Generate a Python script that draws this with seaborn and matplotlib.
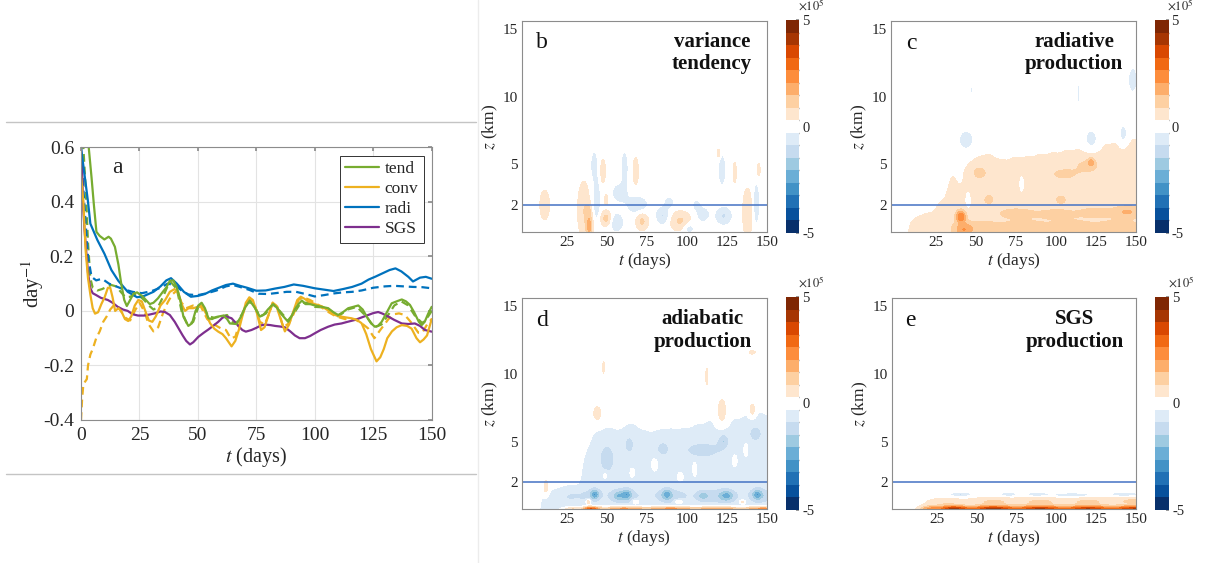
import numpy as np
import pandas as pd
import matplotlib
matplotlib.use("Agg")
import matplotlib.pyplot as plt
from matplotlib.colors import ListedColormap, BoundaryNorm
from matplotlib.lines import Line2D
import seaborn as sns

sns.set_theme(style="white")
plt.rcParams['font.family'] = ['Liberation Serif', 'DejaVu Serif']
plt.rcParams['mathtext.fontset'] = 'stix'
plt.rcParams['axes.unicode_minus'] = False

# ---------------- panel a data (day^-1) ----------------
tend_solid = [(0, 0.9), (2, 0.75), (3.3, 0.6), (4.5, 0.49), (5.5, 0.39), (6.6, 0.29), (8, 0.275), (10, 0.262),
              (11.8, 0.272), (12.8, 0.265), (14.5, 0.235), (16, 0.17), (17.2, 0.1), (18.5, 0.04), (19.6, 0.018),
              (21, 0.04), (22.5, 0.064), (24, 0.068), (26.5, 0.052), (29.4, 0.025), (31, 0.03), (32.9, 0.046),
              (35, 0.07), (36.4, 0.085), (38, 0.11), (39.5, 0.112), (41, 0.085), (42.3, 0.046), (43.8, -0.021),
              (45.9, -0.055), (47.5, -0.045), (49, 0.0), (50.2, 0.02), (51.6, 0.03), (53, 0.01), (54.5, -0.027),
              (56, -0.03), (58, -0.022), (60.9, -0.017), (62.5, -0.03), (63.7, -0.046), (66.5, -0.048),
              (68.5, -0.02), (70, 0.01), (72.2, 0.038), (74.3, 0.012), (76.5, -0.021), (78, -0.015), (80, 0.006),
              (82.2, 0.025), (84, 0.01), (85.5, -0.01), (88.6, -0.04), (90, -0.02), (91.5, 0.006), (93, 0.025),
              (94.5, 0.038), (96, 0.025), (98, 0.025), (100, 0.02), (103, 0.015), (105.7, 0.01), (108, -0.005),
              (110, -0.015), (112, -0.005), (114.3, 0.01), (116.5, 0.015), (118.6, 0.02), (120.5, 0.005),
              (122.2, -0.021), (124, -0.045), (125.7, -0.058), (127, -0.055), (128.6, -0.04), (130.5, -0.01),
              (132.9, 0.028), (135, 0.035), (137.2, 0.042), (139, 0.035), (140.7, 0.022), (142.5, -0.005),
              (144.5, -0.04), (145.7, -0.052), (147, -0.04), (148.5, -0.01), (150, 0.015)]
tend_dash = [(0, 0.62), (1, 0.6), (2, 0.45), (3, 0.25), (4, 0.12), (5, 0.085), (7, 0.075), (9, 0.08), (11, 0.088),
             (13, 0.095), (15, 0.09), (17, 0.07), (19, 0.05), (21, 0.052), (23, 0.06), (25, 0.055), (27, 0.04),
             (29, 0.02), (31, 0.005), (33, 0.015), (35, 0.05), (37, 0.09), (38.5, 0.105), (41, 0.08), (43, 0.0),
             (45.5, -0.05), (48, -0.04), (50.2, 0.015), (52, 0.02), (54.5, -0.02), (57, -0.025), (60, -0.02),
             (62.5, -0.015), (64, -0.04), (66.5, -0.045), (69, -0.01), (71.5, 0.035), (74, 0.02), (76.5, -0.02),
             (79, -0.01), (82, 0.025), (85, 0.0), (88.5, -0.035), (91, -0.01), (94, 0.03), (97, 0.03), (100, 0.015),
             (105, 0.012), (110, -0.02), (114, 0.005), (118, 0.015), (122, -0.02), (125.5, -0.06), (128.5, -0.05),
             (131, -0.02), (134, 0.02), (137, 0.035), (140, 0.02), (143, -0.02), (146, -0.045), (148.5, -0.02),
             (150, 0.0)]
conv_solid = [(0, 0.5), (1, 0.4), (2, 0.22), (3, 0.12), (4, 0.06), (5, 0.01), (6, -0.01), (7.3, -0.005), (8.7, 0.025),
              (10.1, 0.05), (11.5, 0.085), (12.5, 0.085), (13.5, 0.05), (14.6, 0.0), (16, 0.01), (17.2, 0.0),
              (18.8, -0.03), (20.2, -0.037), (21.5, -0.02), (23, 0.02), (24.5, 0.04), (26, 0.035), (27.5, 0.0),
              (29, -0.035), (30.5, -0.04), (32, -0.02), (34, 0.02), (36, 0.04), (38, 0.07), (40, 0.08), (41.5, 0.07),
              (43, 0.025), (44.5, 0.0), (46, 0.01), (48, 0.01), (50, 0.015), (51.6, 0.02), (53.5, -0.01),
              (55.2, -0.045), (57, -0.065), (58.7, -0.076), (60.5, -0.085), (62, -0.1), (64.4, -0.13), (66, -0.11),
              (67.5, -0.07), (69, -0.02), (70.5, 0.03), (72, 0.05), (73.5, 0.04), (75, 0.0), (77, -0.07),
              (78.5, -0.06), (80, -0.02), (82, 0.03), (83.5, 0.02), (85, -0.02), (87.2, -0.075), (89, -0.05),
              (90.5, -0.01), (92.5, 0.04), (94, 0.052), (95.5, 0.045), (97.2, 0.035), (100, 0.025), (103, 0.017),
              (106, 0.0), (108.6, -0.015), (112, -0.022), (115.7, -0.027), (118, -0.033), (120, -0.045),
              (122, -0.085), (124, -0.14), (126.4, -0.185), (128, -0.17), (129.5, -0.14), (131, -0.1),
              (133, -0.075), (135, -0.06), (137.2, -0.052), (139.5, -0.055), (141.4, -0.065), (143.5, -0.1),
              (145, -0.115), (146.5, -0.105), (148, -0.09), (149, -0.06), (150, -0.03)]
conv_dash = [(0, -0.4), (0.5, -0.32), (1, -0.27), (1.7, -0.26), (2.5, -0.25), (3, -0.2), (4, -0.16), (5, -0.14),
             (6.5, -0.1), (8, -0.075), (9.5, -0.04), (11, -0.02), (12.5, 0.005), (14, 0.02), (15.5, 0.02), (17, 0.0),
             (19, -0.025), (21, -0.035), (23, 0.0), (25, 0.03), (27, 0.0), (29, -0.05), (31, -0.075), (33, -0.06),
             (35, -0.01), (37, 0.03), (39, 0.06), (41, 0.075), (43, 0.03), (45, 0.01), (48, 0.02), (51, 0.02),
             (54, -0.03), (57, -0.05), (60, -0.065), (62, -0.07), (64, -0.1), (66, -0.095), (68, -0.04),
             (70.5, 0.02), (72, 0.04), (74, 0.03), (76.5, -0.04), (78.5, -0.05), (80.5, -0.01), (82, 0.03),
             (84, 0.015), (86.5, -0.06), (89, -0.045), (91, -0.01), (93, 0.04), (95, 0.05), (98, 0.04),
             (101, 0.025), (105, 0.0), (109, -0.02), (113, -0.03), (117, -0.03), (120, -0.045), (122.8, -0.064),
             (125.5, -0.1), (128, -0.07), (131.5, -0.03), (134, -0.012), (136, -0.009), (138.5, -0.015),
             (141, -0.04), (144.3, -0.08), (146, -0.08), (148, -0.05), (150, -0.03)]
radi_solid = [(0, 0.60), (1.5, 0.50), (3, 0.40), (4, 0.32), (5.5, 0.29), (7, 0.26), (10, 0.21), (13, 0.15),
              (16, 0.11), (20, 0.07), (24, 0.05), (27, 0.055), (31, 0.07), (34, 0.09), (36.5, 0.112), (38.5, 0.12),
              (41, 0.10), (44, 0.07), (47, 0.052), (50, 0.055), (53, 0.062), (56, 0.075), (59, 0.085), (62, 0.095),
              (65, 0.1), (68, 0.092), (71, 0.085), (75, 0.074), (79, 0.075), (83, 0.082), (87, 0.088), (91, 0.097),
              (95, 0.092), (100, 0.083), (104, 0.078), (108, 0.073), (112, 0.08), (116, 0.088), (120, 0.1),
              (123, 0.115), (126, 0.126), (129, 0.138), (132, 0.15), (134.5, 0.156), (137, 0.145), (140, 0.125),
              (142, 0.108), (145, 0.122), (147.5, 0.125), (150, 0.118)]
radi_dash = [(0, 0.58), (1, 0.45), (2, 0.32), (3, 0.2), (4.5, 0.125), (6.5, 0.112), (9, 0.118), (12, 0.1),
             (15, 0.09), (18, 0.08), (22, 0.07), (26, 0.065), (30, 0.072), (34, 0.085), (37, 0.1), (40, 0.095),
             (43, 0.075), (46, 0.06), (50, 0.058), (54, 0.065), (58, 0.075), (62, 0.09), (65, 0.095), (68, 0.088),
             (72, 0.077), (76, 0.063), (80, 0.062), (84, 0.066), (88, 0.07), (92, 0.07), (96, 0.062), (100, 0.053),
             (104, 0.058), (108, 0.064), (112, 0.068), (116, 0.07), (120, 0.075), (125, 0.085), (130, 0.09),
             (134, 0.092), (138, 0.09), (142, 0.088), (146, 0.087), (150, 0.083)]
sgs_solid = [(0, 0.6), (0.5, 0.5), (1, 0.37), (1.5, 0.3), (2.4, 0.2), (3, 0.14), (3.9, 0.085), (5, 0.065),
             (6.5, 0.058), (8.5, 0.048), (11.5, 0.04), (13.5, 0.03), (15.7, 0.015), (18, 0.005), (20, 0.0),
             (22, -0.012), (24.4, -0.017), (27, -0.017), (29.5, -0.013), (32, -0.008), (34, -0.002), (35.9, -0.004),
             (38, -0.015), (40.1, -0.04), (42, -0.068), (43.5, -0.09), (45, -0.11), (46.6, -0.123), (48, -0.115),
             (50.2, -0.095), (52.5, -0.08), (54.5, -0.068), (56.5, -0.055), (58.7, -0.04), (60.5, -0.025),
             (62, -0.02), (64.4, -0.027), (66, -0.042), (67.3, -0.055), (69, -0.07), (70.5, -0.076), (72.9, -0.07),
             (75, -0.062), (77, -0.053), (78.7, -0.05), (81, -0.052), (83, -0.055), (85, -0.057), (87.2, -0.06),
             (89.5, -0.075), (91.5, -0.09), (93.5, -0.1), (95.8, -0.1), (98, -0.092), (100, -0.082),
             (102.5, -0.07), (105.7, -0.058), (108.5, -0.05), (111.4, -0.046), (114, -0.04), (117.2, -0.033),
             (120, -0.024), (122.8, -0.015), (125, -0.008), (127.1, -0.004), (129, -0.01), (131.5, -0.021),
             (134, -0.033), (137.2, -0.046), (140, -0.048), (142.8, -0.046), (145, -0.055), (147.1, -0.07),
             (150, -0.076)]

series_names = ["tend", "conv", "radi", "SGS"]
series_colors = ["#77AC30", "#EDB120", "#0072BD", "#7E2F8E"]

# ---------------- panels b-e: contour features (t_day, z_km, t_width, z_width, amplitude x1e5) ----------------
blobs_b = [(11, 2.0, 3.0, 1.1, 0.8), (35.5, 1.6, 3.8, 2.1, 0.85), (39, 0.4, 2.0, 0.9, 1.5), (38.5, 1.6, 1.6, 0.5, 0.6),
           (43.5, 2.4, 2.4, 1.4, -0.85), (42, 4.9, 2.2, 1.0, -0.8), (47.5, 4.5, 1.5, 0.9, 0.8),
           (49.5, 1.0, 3.3, 0.55, 1.1), (49.5, 2.4, 1.2, 0.4, 0.7), (56, 0.7, 4.2, 0.65, -0.9),
           (61, 4.7, 2.2, 1.2, -0.8), (58, 2.9, 4.6, 0.65, -0.8), (68, 4.5, 1.7, 1.0, 0.8),
           (69, 2.0, 6.5, 0.65, -0.8), (72, 0.8, 3.8, 0.65, 1.0), (85, 1.2, 4.2, 0.65, -0.95),
           (96, 0.8, 6.5, 0.7, 1.0), (101, 0.3, 4.0, 0.45, -0.75), (110, 1.3, 4.0, 0.55, -0.75),
           (123, 1.2, 5.0, 0.65, -0.95), (122, 4.6, 2.4, 1.1, -0.8), (120, 5.8, 1.1, 0.4, 0.7),
           (130, 4.4, 1.1, 0.8, 0.7), (138, 1.4, 3.0, 1.8, 0.85), (143.5, 2.1, 2.0, 1.4, -0.9),
           (145, 4.6, 1.1, 0.55, 0.6), (89, 2.2, 3.0, 0.4, -0.7), (106, 2.0, 2.5, 0.4, -0.65)]

blobs_c = [(12, 0, 6, 1.3, 0.45), (20, 0, 6, 1.9, 0.42), (28, 0, 5, 3.4, 0.38), (35, 0, 4.5, 6.0, 0.4),
           (42, 0, 5, 4.9, 0.38), (50, 0, 6, 7.3, 0.38), (58, 0, 6, 7.9, 0.38), (66, 0, 6, 7.1, 0.38),
           (74, 0, 6, 7.5, 0.38), (82, 0, 6, 7.5, 0.38), (90, 0, 6, 7.8, 0.38), (98, 0, 6, 7.9, 0.38),
           (106, 0, 6, 8.1, 0.38), (114, 0, 6, 8.2, 0.38), (122, 0, 6, 8.5, 0.38), (130, 0, 6, 8.8, 0.38),
           (138, 0, 6, 9.0, 0.38), (146, 0, 6, 9.3, 0.38), (154, 0, 6, 9.6, 0.38),
           (50, 0.3, 15, 0.6, 0.8), (80, 0.3, 15, 0.6, 0.75), (110, 0.3, 15, 0.6, 0.75), (140, 0.3, 15, 0.6, 0.8),
           (42, 0.15, 5, 0.45, 1.0),
           (75, 1.4, 12, 0.4, 0.7), (100, 1.35, 12, 0.4, 0.65), (125, 1.45, 12, 0.4, 0.7), (145, 1.5, 9, 0.45, 1.0),
           (40.5, 1.15, 3.0, 0.45, 2.1),
           (52, 4.4, 6, 0.6, 0.75), (58, 2.4, 3.5, 0.4, 0.7), (105, 4.3, 10, 0.5, 0.7), (120, 4.9, 8, 0.55, 0.8),
           (122, 5.2, 2.0, 0.3, 0.9), (103, 2.4, 4.0, 0.4, 0.65),
           (45, 2.3, 1.4, 0.45, -0.75), (78.5, 3.5, 1.3, 0.45, -0.75),
           (44, 6.8, 4.5, 0.65, -1.0), (122, 6.9, 4.0, 0.7, -1.0), (142, 7.3, 2.6, 0.65, -1.0),
           (114, 10.2, 1.0, 0.8, -0.75), (148, 11.2, 3.5, 1.1, -0.75), (47, 10.5, 0.8, 0.35, -0.65)]

blobs_d = [(12, 0, 6, 1.4, -0.42), (20, 0, 6, 1.6, -0.4), (28, 0, 6, 2.2, -0.38), (36, 0, 4, 5.2, -0.38),
           (42, 0, 5, 7.7, -0.38), (50, 0, 6, 7.7, -0.38), (58, 0, 6, 7.4, -0.38), (66, 0, 6, 8.5, -0.38),
           (74, 0, 6, 7.9, -0.38), (82, 0, 6, 7.7, -0.38), (90, 0, 6, 8.1, -0.38), (98, 0, 6, 8.1, -0.38),
           (106, 0, 6, 8.5, -0.38), (114, 0, 6, 8.9, -0.38), (122, 0, 6, 9.0, -0.38), (130, 0, 6, 9.0, -0.38),
           (138, 0, 6, 9.5, -0.38), (146, 0, 6, 9.6, -0.38), (154, 0, 6, 9.6, -0.38),
           (50, 3.8, 6, 1.3, -0.85), (64, 4.8, 4, 0.8, -0.8), (110, 4.4, 14, 0.7, -0.8),
           (123, 5.1, 3.5, 0.55, -1.0), (143, 5.6, 5, 0.7, -0.85), (85, 4.5, 5, 0.7, -0.75),
           (30, 1.0, 12, 0.6, -0.6), (60, 1.0, 12, 0.6, -0.7), (90, 1.0, 12, 0.6, -0.7),
           (120, 1.0, 12, 0.6, -0.7), (148, 1.0, 10, 0.6, -0.7),
           (42.5, 1.1, 3.3, 0.42, -2.0), (57, 1.0, 3.3, 0.38, -1.0), (62.5, 1.1, 3.3, 0.42, -1.5),
           (87.5, 1.1, 3.3, 0.42, -1.5), (110, 1.0, 4.0, 0.38, -1.0), (125, 1.0, 4.5, 0.42, -1.4),
           (144, 1.1, 3.3, 0.42, -1.6),
           (49, 2.5, 1.6, 0.3, 0.6), (66, 2.7, 1.3, 0.3, 0.6), (80, 3.3, 1.6, 0.4, 0.6), (96, 2.4, 1.6, 0.3, 0.6),
           (130, 3.6, 1.3, 0.4, 0.6), (137, 4.4, 1.1, 0.4, 0.6), (105, 3.0, 1.1, 0.5, 0.6),
           (40, 0.0, 5, 0.2, 3.4), (28, 0.0, 6, 0.15, 1.4), (60, 0.0, 15, 0.18, 2.7), (90, 0.0, 15, 0.18, 2.7),
           (120, 0.0, 15, 0.18, 2.6), (148, 0.0, 12, 0.18, 2.7),
           (38.5, 0.55, 1.5, 0.2, 1.4), (68, 0.55, 2.0, 0.15, 1.1), (95, 0.55, 2.5, 0.15, 1.1),
           (135, 0.55, 2.0, 0.15, 1.1), (12, 1.6, 1.6, 0.6, 0.75),
           (44, 7.1, 2.5, 0.55, 1.0), (48, 10.5, 0.6, 0.55, 0.7), (112.5, 9.8, 0.9, 0.9, 0.7),
           (122, 7.3, 2.8, 1.0, 1.0), (141, 7.4, 1.8, 0.5, 1.0), (141, 11.6, 3.0, 0.2, 0.6)]

blobs_e = [(20, 0.0, 6, 0.24, 1.8), (35, 0.0, 10, 0.24, 3.8), (60, 0.0, 15, 0.24, 4.0), (90, 0.0, 15, 0.24, 3.8),
           (120, 0.0, 15, 0.24, 3.7), (150, 0.0, 15, 0.24, 3.8),
           (30, 0.5, 12, 0.32, 0.75), (60, 0.55, 15, 0.32, 0.95), (90, 0.55, 15, 0.32, 0.95),
           (120, 0.55, 15, 0.32, 0.95), (150, 0.6, 15, 0.32, 1.0),
           (40, 1.1, 6, 0.16, -1.0), (70, 1.1, 4.5, 0.15, -0.95), (88, 1.1, 6, 0.15, -0.95),
           (110, 1.05, 11, 0.15, -0.95), (143, 1.1, 8, 0.16, -1.0)]

panel_letters = ["b", "c", "d", "e"]
panel_titles = ["variance\ntendency", "radiative\nproduction", "adiabatic\nproduction", "SGS\nproduction"]
level_values = np.linspace(-5, 5, 18)
cmap_colors = ['#08306b', '#08519c', '#2171b5', '#4292c6', '#6baed6', '#9ecae1', '#c6dbef', '#deebf7',
               '#ffffff',
               '#fee6ce', '#fdd0a2', '#fdae6b', '#fd8d3c', '#f16913', '#d94801', '#a63603', '#7f2704']

# ---------------- figure ----------------
W, H = 1215, 563
fig = plt.figure(figsize=(W / 100, H / 100), dpi=100)


def frac(left, top, right, bottom):
    return [left / W, 1 - bottom / H, (right - left) / W, (bottom - top) / H]


frame_col = '#8c8c8c'
text_col = '#262626'

# decorative frame lines
fig.add_artist(Line2D([6 / W, 476 / W], [1 - 122 / H, 1 - 122 / H], color='#c4c4c4', lw=1.0))
fig.add_artist(Line2D([6 / W, 476 / W], [1 - 474 / H, 1 - 474 / H], color='#c4c4c4', lw=1.0))
fig.add_artist(Line2D([478 / W, 478 / W], [0, 1], color='#ececec', lw=1.0))

# ---- panel a ----
axa = fig.add_axes(frac(81, 147.3, 431.7, 420))
for data, col, ls in [(tend_dash, series_colors[0], '--'), (conv_dash, series_colors[1], '--'),
                      (radi_dash, series_colors[2], '--'),
                      (sgs_solid, series_colors[3], '-'), (radi_solid, series_colors[2], '-'),
                      (conv_solid, series_colors[1], '-'), (tend_solid, series_colors[0], '-')]:
    df = pd.DataFrame(data, columns=['t', 'v'])
    sns.lineplot(data=df, x='t', y='v', ax=axa, color=col, lw=1.6, linestyle=ls,
                 sort=False, estimator=None, legend=False)
for ln in axa.get_lines():
    if ln.get_linestyle() == '--':
        ln.set_dashes((3.5, 2.2))
axa.set_xlim(0, 150)
axa.set_ylim(-0.4, 0.6)
axa.set_xticks([0, 25, 50, 75, 100, 125, 150])
axa.set_yticks([-0.4, -0.2, 0, 0.2, 0.4, 0.6])
axa.set_yticklabels(['-0.4', '-0.2', '0', '0.2', '0.4', '0.6'])
axa.grid(True, color='#e3e3e3', lw=0.8)
axa.tick_params(direction='in', length=3, top=True, right=True, labelsize=14, colors=frame_col,
                labelcolor=text_col, pad=5)
for s in axa.spines.values():
    s.set_color(frame_col)
    s.set_linewidth(0.8)
axa.set_xlabel('$t$ (days)', fontsize=14.5, color=text_col, labelpad=1)
axa.set_ylabel('day$^{-1}$', fontsize=15, color=text_col, labelpad=-2)
axa.text(0.105, 0.925, 'a', transform=axa.transAxes, fontsize=17, ha='center', va='center', color=text_col)
handles = [Line2D([0], [0], color=c, lw=1.6) for c in series_colors]
leg = axa.legend(handles, series_names, loc='upper right', bbox_to_anchor=(0.977, 0.968), fontsize=12.5,
                 frameon=True, fancybox=False, framealpha=1, edgecolor='#333333', handlelength=2.0,
                 labelspacing=0.22, borderpad=0.3, handletextpad=0.3, borderaxespad=0)
leg.get_frame().set_linewidth(0.7)

# ---- panels b-e ----
cmap = ListedColormap(cmap_colors)
norm = BoundaryNorm(level_values, cmap.N)
t_grid = np.linspace(-3, 150, 460)
z_grid = np.linspace(0, 15.6, 330)
TT, ZZ = np.meshgrid(t_grid, z_grid)

boxes = [(522.3, 21, 766.7, 232), (891.3, 21, 1136, 232), (522, 298.3, 766.7, 509.3), (892.3, 298.3, 1135.7, 509.3)]
cboxes = [(785.7, 20, 799.3, 233), (1155, 20, 1168.7, 233), (785.7, 297, 799.3, 510), (1155.3, 297, 1169.3, 510)]
letter_pos = [(0.079, 0.9), (0.083, 0.894), (0.08, 0.897), (0.073, 0.897)]
title_pos = [(0.775, 0.85), (0.747, 0.85), (0.737, 0.847), (0.748, 0.847)]

for i, blobs in enumerate([blobs_b, blobs_c, blobs_d, blobs_e]):
    ax = fig.add_axes(frac(*boxes[i]))
    cax = fig.add_axes(frac(*cboxes[i]))
    F = np.zeros_like(TT)
    for (tc, zc, wt, wz, amp) in blobs:
        F += amp * np.exp(-((TT - tc) / wt) ** 2 - ((ZZ - zc) / wz) ** 2)
    F = np.clip(F, -4.99, 4.99)
    cs = ax.contourf(TT, ZZ, F, levels=level_values, cmap=cmap, norm=norm)
    ax.axhline(2, color='#4472c4', lw=1.1)
    ax.set_xlim(-3, 150)
    ax.set_ylim(0, 15.6)
    ax.set_xticks([25, 50, 75, 100, 125, 150])
    ax.set_yticks([2, 5, 10, 15])
    ax.tick_params(direction='in', length=3, top=True, right=True, labelsize=11, colors=frame_col,
                   labelcolor=text_col, pad=3)
    for s in ax.spines.values():
        s.set_color(frame_col)
        s.set_linewidth(0.8)
    ax.set_xlabel('$t$ (days)', fontsize=12.5, color=text_col, labelpad=1)
    ax.set_ylabel('$z$ (km)', fontsize=12.5, color=text_col, labelpad=2)
    lx, ly = letter_pos[i]
    ax.text(lx, ly, panel_letters[i], transform=ax.transAxes, fontsize=17, ha='center', va='center',
            color='#111111')
    tx, ty = title_pos[i]
    ax.text(tx, ty, panel_titles[i], transform=ax.transAxes, fontsize=15, fontweight='bold', ha='center',
            va='center', multialignment='center', linespacing=1.15, color='#111111')
    cb = fig.colorbar(cs, cax=cax, ticks=[-5, 0, 5])
    cb.ax.minorticks_off()
    cb.ax.set_yticks([-5, 0, 5])
    cb.ax.set_yticklabels(['-5', '0', '5'])
    cb.ax.tick_params(which='both', direction='in', length=2.5, labelsize=10.5, colors=frame_col,
                      labelcolor=text_col, pad=2)
    cb.outline.set_visible(False)
    cax.text(0.9, 1.028, r'$\times10^{5}$', transform=cax.transAxes, ha='left', va='bottom', fontsize=9,
             color=text_col)

fig.savefig('out.png', dpi=100, facecolor='white')
